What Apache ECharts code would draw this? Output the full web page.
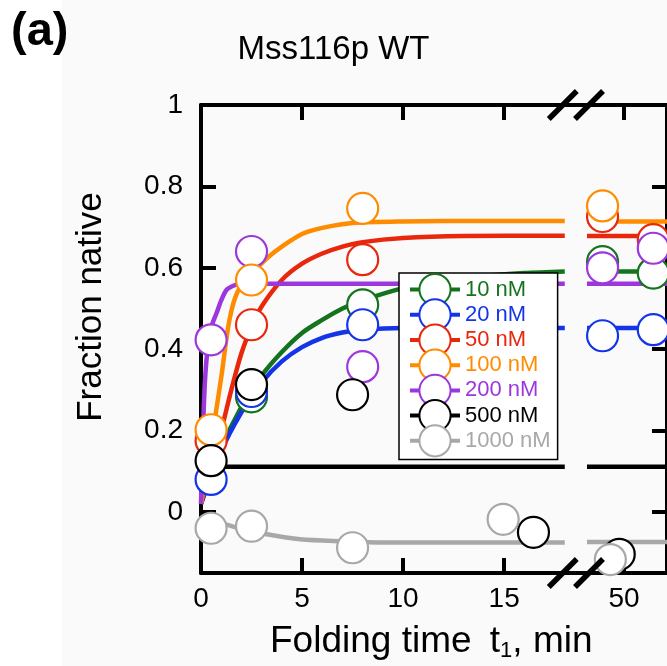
<!DOCTYPE html>
<html>
<head>
<meta charset="utf-8">
<script src="https://cdn.jsdelivr.net/npm/echarts@6/dist/echarts.min.js"></script>
<style>
  html, body { margin: 0; padding: 0; background: #fafafa; }
  #chart { width: 667px; height: 666px; }
</style>
</head>
<body>
<div id="chart"></div>
<script>
// legend order
const names = ['10 nM', '20 nM', '50 nM', '100 nM', '200 nM', '500 nM', '1000 nM'];
const colors = ['#13741d', '#1434e8', '#e8270d', '#ff8c00', '#9b37dc', '#000000', '#a8a8a8'];

// fitted curves, left panel (time min, fraction native)
const fit10 = [[0, 0.02], [1, 0.156], [2, 0.258], [3, 0.335], [4, 0.393], [5, 0.44], [6, 0.472], [7, 0.5], [8, 0.52], [10, 0.55], [12, 0.568], [14, 0.58], [16, 0.587], [18, 0.591]];
const fit20 = [[0, 0.02], [1, 0.15], [2, 0.245], [3, 0.318], [4, 0.37], [5, 0.405], [6, 0.428], [7, 0.441], [8, 0.448], [10, 0.452], [14, 0.452], [18, 0.452]];
const fit50 = [[0, 0.02], [0.5, 0.11], [1, 0.2], [1.5, 0.3], [2, 0.39], [2.5, 0.455], [3, 0.505], [4, 0.57], [5, 0.61], [6, 0.635], [7, 0.652], [8, 0.663], [10, 0.673], [13, 0.678], [18, 0.679]];
const fit100 = [[0, 0.02], [0.5, 0.17], [1, 0.33], [1.4, 0.47], [1.8, 0.54], [2.5, 0.585], [3.3, 0.625], [4, 0.652], [5, 0.683], [6, 0.698], [7.5, 0.71], [10, 0.714], [14, 0.715], [18, 0.715]];
const fit200 = [[0, 0.02], [0.1, 0.2], [0.2, 0.325], [0.35, 0.41], [0.55, 0.46], [0.78, 0.49], [1, 0.52], [1.27, 0.546], [1.6, 0.556], [1.9, 0.56], [2.5, 0.561], [8, 0.561], [18, 0.561]];
const fit500 = [[0, 0.111], [18, 0.111]];
const fit1000 = [[0, -0.015], [1.27, -0.031], [2, -0.042], [3.25, -0.055], [4.9, -0.067], [7, -0.072], [9, -0.075], [12, -0.075], [18, -0.075]];

// fitted plateaus, right panel
const flat10 = [[40, 0.591], [61.6, 0.591]];
const flat20 = [[40, 0.452], [61.6, 0.452]];
const flat50 = [[40, 0.678], [61.6, 0.678]];
const flat100 = [[40, 0.714], [61.6, 0.714]];
const flat200 = [[40, 0.561], [61.6, 0.561]];
const flat500 = [[40, 0.111], [61.6, 0.111]];
const flat1000 = [[40, -0.074], [61.6, -0.074]];

// measured points, left panel
const pts10 = [[2.5, 0.283], [8, 0.509]];
const pts20 = [[0.5, 0.08], [2.5, 0.296], [8, 0.46]];
const pts50 = [[0.5, 0.175], [2.5, 0.46], [8, 0.62]];
const pts100 = [[0.5, 0.202], [2.5, 0.57], [8, 0.746]];
const pts200 = [[0.5, 0.423], [2.5, 0.64], [8, 0.357]];
const pts500 = [[0.5, 0.126], [2.5, 0.313], [7.5, 0.288], [16.45, -0.05]];
const pts1000 = [[0.5, -0.04], [2.5, -0.035], [7.5, -0.088], [14.95, -0.018]];

// measured points, right panel
const ptsR10 = [[44.2, 0.615], [57.9, 0.587]];
const ptsR20 = [[44.2, 0.433], [57.9, 0.448]];
const ptsR50 = [[44.2, 0.726], [57.9, 0.669]];
const ptsR100 = [[44.2, 0.752]];
const ptsR200 = [[44.2, 0.6], [57.9, 0.648]];
const ptsR500 = [[48.7, -0.104]];
const ptsR1000 = [[46.3, -0.117]];

const xTicksL = [0, 5, 10, 15];
const xTicksR = [50];
const yTicks = [0, 0.2, 0.4, 0.6, 0.8, 1];

const fits = [fit10, fit20, fit50, fit100, fit200, fit500, fit1000];
const flats = [flat10, flat20, flat50, flat100, flat200, flat500, flat1000];
const ptsL = [pts10, pts20, pts50, pts100, pts200, pts500, pts1000];
const ptsR = [ptsR10, ptsR20, ptsR50, ptsR100, ptsR200, ptsR500, ptsR1000];
const drawOrder = [0, 1, 2, 4, 3, 5, 6];

const font = "'Liberation Sans', Arial, sans-serif";

const chart = echarts.init(document.getElementById('chart'));

const series = [];
names.forEach((n, i) => {
  series.push({
    name: n, type: 'line', xAxisIndex: 0, yAxisIndex: 0, data: fits[i],
    smooth: 0.3, symbol: 'emptyCircle', showSymbol: false,
    color: colors[i], lineStyle: { color: colors[i], width: 4.5 }, z: 2
  });
});
names.forEach((n, i) => {
  series.push({
    name: n, type: 'line', xAxisIndex: 2, yAxisIndex: 1, data: flats[i],
    symbol: 'none', color: colors[i], lineStyle: { color: colors[i], width: 4.5 }, z: 2
  });
});
drawOrder.forEach(i => {
  const st = { color: '#fff', borderColor: colors[i], borderWidth: 2.2, opacity: 1 };
  series.push({ name: names[i], type: 'scatter', xAxisIndex: 0, yAxisIndex: 0, data: ptsL[i],
    symbol: 'circle', symbolSize: 31, itemStyle: st, clip: false, z: 3 });
  series.push({ name: names[i], type: 'scatter', xAxisIndex: 2, yAxisIndex: 1, data: ptsR[i],
    symbol: 'circle', symbolSize: 31, itemStyle: st, clip: false, z: 3 });
});

const line = { onZero: false, lineStyle: { color: '#000', width: 4 } };
const tick = vals => ({ inside: true, length: 15, customValues: vals, lineStyle: { color: '#000', width: 4 } });
const label = vals => ({ customValues: vals, fontSize: 28, color: '#000', fontFamily: font, margin: 12 });

chart.setOption({
  animation: false,
  backgroundColor: '#fafafa',
  title: [
    { text: '(a)', left: 11, top: 9, padding: 0,
      textStyle: { fontSize: 47, fontWeight: 'bold', fontFamily: font, color: '#000' } },
    { text: 'Mss116p WT', left: 'center', top: 33, padding: 0,
      textStyle: { fontSize: 33, fontWeight: 'normal', fontFamily: font, color: '#000' } },
    { text: '{a|Folding time }{t|t}{s|1}{a|, min}', left: 270, top: 622, padding: 0,
      textStyle: {
        fontWeight: 'normal',
        rich: {
          a: { fontSize: 37, fontWeight: 'normal', fontFamily: font, color: '#000' },
          t: { fontSize: 37, fontWeight: 'normal', fontFamily: font, color: '#000', padding: [0, 0, 0, 8] },
          s: { fontSize: 22, fontWeight: 'normal', fontFamily: font, color: '#000', padding: [18, 0, 0, 0] }
        }
      } }
  ],
  legend: {
    orient: 'vertical', left: 399, top: 273,
    data: names.map((n, i) => ({ name: n, textStyle: { color: colors[i] } })),
    itemWidth: 50, itemHeight: 39, itemGap: -8,
    padding: [0, 7, 2, 9],
    backgroundColor: '#fff', borderColor: '#000', borderWidth: 1.5,
    textStyle: { fontSize: 22, fontFamily: font },
    lineStyle: { width: 4 }, itemStyle: { borderWidth: 2.2 },
    selectedMode: false, z: 10
  },
  grid: [
    { left: 201, top: 105, width: 386, height: 468 },
    { left: 587, top: 105, width: 82, height: 468 }
  ],
  xAxis: [
    { gridIndex: 0, type: 'value', min: 0, max: 19.1, position: 'bottom',
      axisLine: line, axisTick: tick([5, 10, 15]), axisLabel: label(xTicksL), splitLine: { show: false } },
    { gridIndex: 0, type: 'value', min: 0, max: 19.1, position: 'top',
      axisLine: line, axisTick: tick([5, 10, 15]), axisLabel: { show: false }, splitLine: { show: false } },
    { gridIndex: 1, type: 'value', min: 40, max: 61.6, position: 'bottom',
      axisLine: line, axisTick: tick(xTicksR), axisLabel: label(xTicksR), splitLine: { show: false } },
    { gridIndex: 1, type: 'value', min: 40, max: 61.6, position: 'top',
      axisLine: line, axisTick: tick(xTicksR), axisLabel: { show: false }, splitLine: { show: false } }
  ],
  yAxis: [
    { gridIndex: 0, type: 'value', min: -0.15, max: 1, position: 'left',
      axisLine: line, axisTick: tick(yTicks),
      axisLabel: Object.assign(label(yTicks), { margin: 18, padding: [0, 0, 9, 0] }),
      splitLine: { show: false } },
    { gridIndex: 1, type: 'value', min: -0.15, max: 1, position: 'right',
      axisLine: line, axisTick: tick(yTicks), axisLabel: { show: false }, splitLine: { show: false } }
  ],
  series: series
});

// decorations: left white strip, y title, axis break marks
const xl = chart.convertToPixel({ xAxisIndex: 0 }, 18);
const xr = chart.convertToPixel({ xAxisIndex: 2 }, 40);
const yt = chart.convertToPixel({ yAxisIndex: 0 }, 1);
const yb = chart.convertToPixel({ yAxisIndex: 0 }, -0.15);
const slash = (id, cx, cy) => ({
  id: id, type: 'line', z: 20, silent: true,
  shape: { x1: cx - 14, y1: cy + 14, x2: cx + 14, y2: cy - 14 },
  style: { stroke: '#000', lineWidth: 5.5 }
});
chart.setOption({
  graphic: [
    { id: 'strip', type: 'rect', z: -10, silent: true, shape: { x: 0, y: 0, width: 62, height: 666 }, style: { fill: '#fff' } },
    { id: 'ytitle', type: 'text', x: 91, y: 307, rotation: Math.PI / 2, silent: true,
      style: { text: 'Fraction native', fontSize: 35, fontFamily: font, fill: '#000',
        align: 'center', verticalAlign: 'middle', textAlign: 'center', textVerticalAlign: 'middle' } },
    slash('s1', xl - 2, yt), slash('s2', xr + 2, yt),
    slash('s3', xl - 2, yb), slash('s4', xr + 2, yb)
  ]
});
</script>
</body>
</html>
